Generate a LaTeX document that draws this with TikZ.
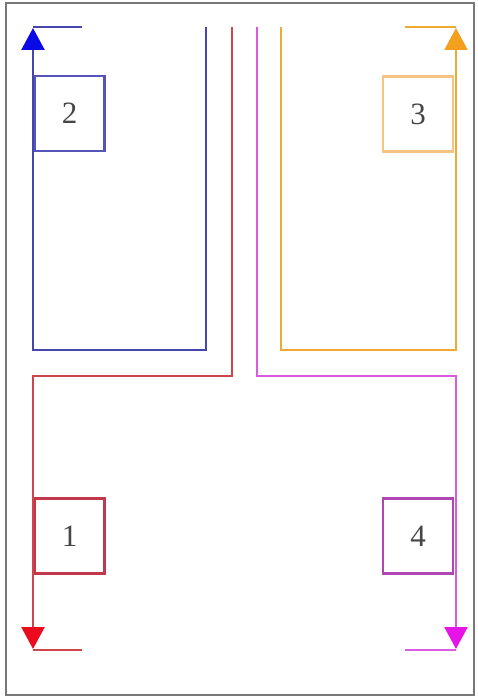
\documentclass[tikz,border=0pt]{standalone}
\usepackage{fontspec}
\setmainfont{Liberation Serif}
\usetikzlibrary{arrows.meta}
\definecolor{bline}{RGB}{70,70,175}
\definecolor{btip}{RGB}{10,10,230}
\definecolor{rline}{RGB}{205,70,75}
\definecolor{rtip}{RGB}{235,10,30}
\definecolor{oline}{RGB}{240,170,50}
\definecolor{otip}{RGB}{242,160,30}
\definecolor{mline}{RGB}{220,90,225}
\definecolor{mtip}{RGB}{230,20,230}
\definecolor{bbox}{RGB}{85,85,185}
\definecolor{rbox}{RGB}{195,55,75}
\definecolor{obox}{RGB}{245,195,130}
\definecolor{mbox}{RGB}{175,70,180}
\definecolor{txt}{RGB}{70,70,70}
\definecolor{frame}{RGB}{120,120,120}
\begin{document}
\begin{tikzpicture}[x=1pt,y=-1pt,
  wire/.style={line width=2.4pt},
  tipped/.style={wire,-{Triangle[length=22pt,width=23pt,color=#1]}},
  numbox/.style={draw=#1,line width=2.2pt,minimum width=70pt,minimum height=75pt,
    inner sep=0pt,text=txt,font=\fontsize{31}{31}\selectfont}]
\useasboundingbox (0,0) rectangle (477,698);
\draw[frame,line width=2.2pt] (6,3) rectangle (474,695);
% boxes
\node[numbox=bbox] (b2) at (69.5,113.5) {2};
\node[numbox=obox] (b3) at (418,114) {3};
\node[numbox=rbox] (b1) at (69.5,536) {1};
\node[numbox=mbox] (b4) at (418,536) {4};
% corner coordinates
\coordinate (bs) at (206,27);
\coordinate (bc1) at (206,350);
\coordinate (bc2) at (33,350);
\coordinate (be) at (33,28);
\coordinate (bf) at (82,27);
\coordinate (bg) at (33,27);
\coordinate (rs) at (232,27);
\coordinate (rc1) at (232,376);
\coordinate (rc2) at (33,376);
\coordinate (re) at (33,649);
\coordinate (rg) at (33,650);
\coordinate (rf) at (82,650);
\coordinate (ms) at (257,27);
\coordinate (mc1) at (257,376);
\coordinate (mc2) at (456,376);
\coordinate (me) at (456,649);
\coordinate (mg) at (456,650);
\coordinate (mf) at (405,650);
\coordinate (os) at (281,27);
\coordinate (oc1) at (281,350);
\coordinate (oc2) at (456,350);
\coordinate (oe) at (456,28);
\coordinate (og) at (456,27);
\coordinate (of) at (405,27);
% paths
\draw[bline,tipped=btip] (bs) -- (bc1) -- (bc2) -- (be);
\draw[bline,wire] (bg) -- (bf);
\draw[rline,tipped=rtip] (rs) -- (rc1) -- (rc2) -- (re);
\draw[rline,wire] (rg) -- (rf);
\draw[mline,tipped=mtip] (ms) -- (mc1) -- (mc2) -- (me);
\draw[mline,wire] (mg) -- (mf);
\draw[oline,tipped=otip] (os) -- (oc1) -- (oc2) -- (oe);
\draw[oline,wire] (og) -- (of);
\end{tikzpicture}
\end{document}
